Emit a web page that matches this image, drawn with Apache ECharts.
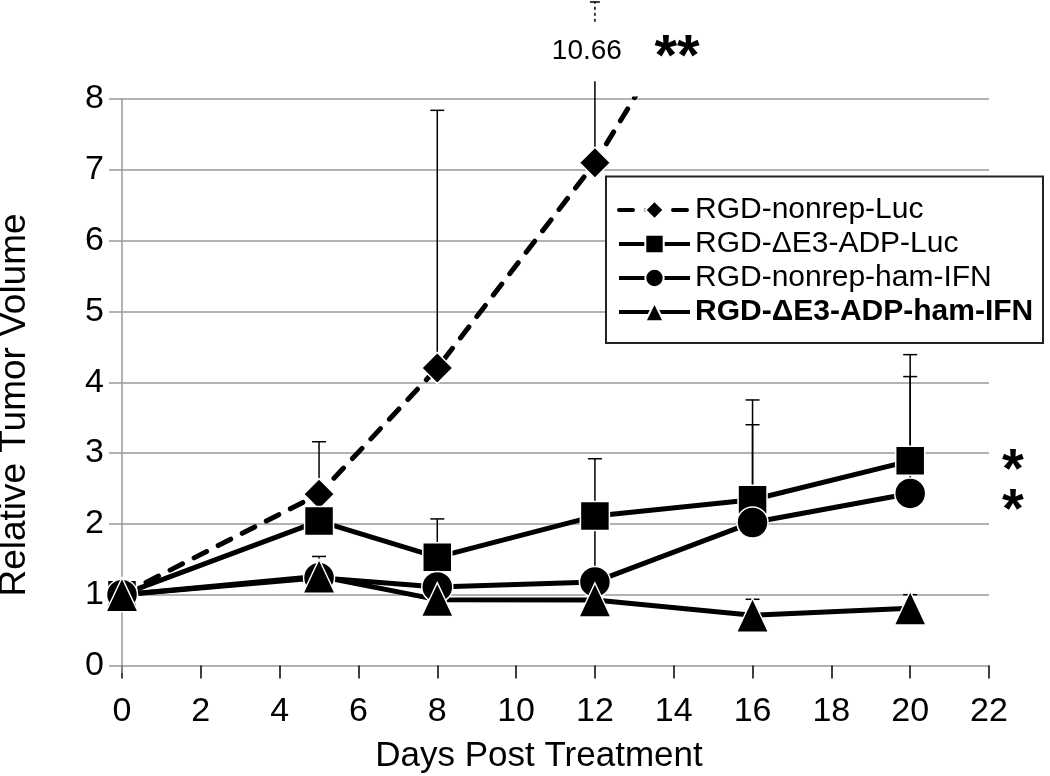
<!DOCTYPE html>
<html>
<head>
<meta charset="utf-8">
<script src="https://cdn.jsdelivr.net/npm/echarts@6/dist/echarts.min.js"></script>
<style>
html,body{margin:0;padding:0;background:#fff;}
#chart{width:1050px;height:776px;}
</style>
</head>
<body>
<div id="chart"></div>
<script>
// ---- data ----
const days = [0, 5, 8, 12, 16, 20];
const seriesNames = ['RGD-nonrep-Luc', 'RGD-\u0394E3-ADP-Luc', 'RGD-nonrep-ham-IFN', 'RGD-\u0394E3-ADP-ham-IFN'];
const nonrepLuc      = [1.00, 2.42, 4.20, 7.10, 10.76, null];
const nonrepLucErr   = [null, 3.16, 7.84, 10.66, null, null];
const adpLuc         = [1.00, 2.04, 1.53, 2.11, 2.34, 2.89];
const adpLucErr      = [null, 2.30, 2.07, 2.92, 3.75, 4.39];
const nonrepIFN      = [1.00, 1.24, 1.11, 1.18, 2.02, 2.43];
const nonrepIFNErr   = [null, 1.54, 1.30, 2.30, 3.40, 4.08];
const adpIFN         = [1.00, 1.26, 0.93, 0.925, 0.71, 0.81];
const adpIFNErr      = [null, 1.40, null, null, 0.935, 1.00];
const xTicks = {min: 0, max: 22, interval: 2};
const yTicks = {min: 0, max: 8, interval: 1};

const FONT = "'Liberation Sans', Arial, sans-serif";
const chart = echarts.init(document.getElementById('chart'));

function pairs(vals) { return days.map((d, i) => [d, vals[i]]); }
function errPairs(vals, errs) {
  const out = [];
  days.forEach((d, i) => { if (errs[i] != null && vals[i] != null) out.push([d, vals[i], errs[i]]); });
  return out;
}

function renderErr(params, api) {
  const x = api.value(0), v = api.value(1), t = api.value(2);
  const p0 = api.coord([x, v]);
  const st = {stroke: '#000', lineWidth: 1.5};
  const yMax = yTicks.max;
  if (t <= yMax) {
    const p1 = api.coord([x, t]);
    return {type: 'group', children: [
      {type: 'line', shape: {x1: p0[0], y1: p0[1], x2: p1[0], y2: p1[1]}, style: st},
      {type: 'line', shape: {x1: p1[0] - 7, y1: p1[1], x2: p1[0] + 7, y2: p1[1]}, style: st}
    ]};
  }
  // broken error bar running off the top of the axis
  const a = api.coord([x, yMax + 0.25]);
  const lab = api.coord([x, yMax + 0.68]);
  const d0 = api.coord([x, yMax + 1.09]);
  const d1 = api.coord([x, yMax + 1.37]);
  return {type: 'group', children: [
    {type: 'line', shape: {x1: p0[0], y1: p0[1], x2: a[0], y2: a[1]}, style: st},
    {type: 'text', x: lab[0] - 8, y: lab[1], style: {text: t.toFixed(2), fontSize: 28, fontFamily: FONT, fill: '#000', align: 'center', verticalAlign: 'middle'}},
    {type: 'line', shape: {x1: d0[0], y1: d0[1], x2: d1[0], y2: d1[1]}, style: {stroke: '#000', lineWidth: 1.5, lineDash: [3, 3]}},
    {type: 'line', shape: {x1: d1[0] - 5, y1: d1[1], x2: d1[0] + 5, y2: d1[1]}, style: st}
  ]};
}

function errSeries(vals, errs) {
  return {type: 'custom', renderItem: renderErr, data: errPairs(vals, errs), clip: false, z: 1, silent: true,
    encode: {x: 0, y: 1}};
}

function lineSeries(name, vals, symbol, size, dashed) {
  return {
    name: name, type: 'line', data: pairs(vals), symbol: symbol, symbolSize: size,
    z: 3, clip: true, silent: true,
    lineStyle: {color: '#000', width: 5, type: dashed ? [14, 13] : 'solid', cap: dashed ? 'round' : 'butt'},
    itemStyle: {color: '#000', borderColor: '#fff', borderWidth: 1.5},
    emphasis: {disabled: true}
  };
}

const option = {
  animation: false,
  backgroundColor: '#fff',
  textStyle: {fontFamily: FONT},
  grid: {left: 122, right: 61, top: 99, bottom: 110.5, containLabel: false},
  xAxis: {
    type: 'value', min: xTicks.min, max: xTicks.max, interval: xTicks.interval, offset: 7,
    axisLine: {show: true, lineStyle: {color: '#999', width: 1.5}},
    axisTick: {show: true, length: 13, lineStyle: {color: '#000', width: 1.5}},
    axisLabel: {margin: 22, fontSize: 34, color: '#000', fontFamily: FONT},
    splitLine: {show: false}
  },
  yAxis: {
    type: 'value', min: yTicks.min, max: yTicks.max, interval: yTicks.interval,
    axisLine: {show: true, lineStyle: {color: '#999', width: 1.5}},
    axisTick: {show: true, length: 13, lineStyle: {color: '#999', width: 1.5}},
    axisLabel: {margin: 18, fontSize: 34, color: '#000', fontFamily: FONT},
    splitLine: {show: true, showMinLine: false, lineStyle: {color: '#999', width: 1.5}}
  },
  legend: {
    show: true, orient: 'vertical', left: 617, top: 193, padding: 0, itemGap: 0,
    itemWidth: 71, itemHeight: 23, z: 60, selectedMode: false,
    lineStyle: {width: 4},
    textStyle: {fontSize: 30, lineHeight: 34, color: '#000', fontFamily: FONT},
    data: [
      {name: seriesNames[0]},
      {name: seriesNames[1]},
      {name: seriesNames[2]},
      {name: seriesNames[3], textStyle: {fontWeight: 'bold'}}
    ]
  },
  graphic: [
    {type: 'rect', z: 50, shape: {x: 606, y: 176.5, width: 437, height: 166.5},
      style: {fill: '#fff', stroke: '#222', lineWidth: 2}},
    {type: 'line', z: 40, shape: {x1: 122, y1: 665, x2: 122, y2: 673}, style: {stroke: '#999', lineWidth: 1.5}},
    {type: 'text', z: 100, x: 539, y: 756, style: {text: 'Days Post Treatment', fontSize: 35, fontFamily: FONT, fill: '#000', align: 'center', verticalAlign: 'middle'}},
    {type: 'text', z: 100, x: 15, y: 405, rotation: Math.PI / 2, style: {text: 'Relative Tumor Volume', fontSize: 37, fontFamily: FONT, fill: '#000', align: 'center', verticalAlign: 'middle'}},
    {type: 'text', z: 100, x: 677, y: 59, style: {text: '**', fontSize: 58, fontWeight: 'bold', fontFamily: FONT, fill: '#000', align: 'center', verticalAlign: 'middle'}},
    {type: 'text', z: 100, x: 1013, y: 472, style: {text: '*', fontSize: 56, fontWeight: 'bold', fontFamily: FONT, fill: '#000', align: 'center', verticalAlign: 'middle'}},
    {type: 'text', z: 100, x: 1013, y: 512, style: {text: '*', fontSize: 56, fontWeight: 'bold', fontFamily: FONT, fill: '#000', align: 'center', verticalAlign: 'middle'}}
  ],
  series: [
    errSeries(nonrepLuc, nonrepLucErr),
    errSeries(adpLuc, adpLucErr),
    errSeries(nonrepIFN, nonrepIFNErr),
    errSeries(adpIFN, adpIFNErr),
    lineSeries(seriesNames[0], nonrepLuc, 'diamond', 31, true),
    lineSeries(seriesNames[1], adpLuc, 'rect', 29, false),
    lineSeries(seriesNames[2], nonrepIFN, 'circle', 31, false),
    lineSeries(seriesNames[3], adpIFN, 'triangle', [32, 34], false)
  ]
};
chart.setOption(option);
</script>
</body>
</html>
